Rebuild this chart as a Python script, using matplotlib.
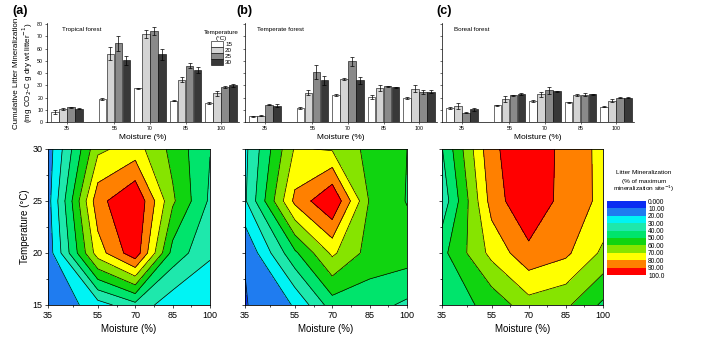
import numpy as np
import matplotlib
matplotlib.use("Agg")
import matplotlib.pyplot as plt
from matplotlib.patches import Patch
from matplotlib.ticker import FixedLocator

plt.rcParams['font.family'] = ['Liberation Sans', 'DejaVu Sans']

# ---------------- data ----------------
moisture_labels = ['35', '55', '70', '85', '100']
temperatures = [15, 20, 25, 30]
site_names = ['Tropical forest', 'Temperate forest', 'Boreal forest']

# bar means: rows = moisture (35,55,70,85,100), cols = temperature (15,20,25,30)
tropical_mean = [[8.0, 10.5, 12.0, 11.0],
                 [19.0, 56.0, 64.5, 50.5],
                 [27.5, 72.0, 74.5, 55.5],
                 [17.5, 34.5, 46.0, 42.5],
                 [15.5, 23.5, 28.5, 30.0]]
tropical_err = [[1.5, 1.0, 0.5, 0.5],
                [1.0, 5.0, 6.0, 3.5],
                [0.5, 3.0, 3.0, 4.5],
                [0.5, 2.0, 2.0, 2.5],
                [1.0, 2.0, 1.0, 1.5]]
temperate_mean = [[4.6, 5.2, 14.2, 13.4],
                  [11.2, 24.0, 41.0, 34.0],
                  [22.0, 35.2, 49.7, 34.0],
                  [20.5, 28.0, 29.2, 28.4],
                  [19.7, 27.3, 24.6, 24.9]]
temperate_err = [[0.3, 0.3, 0.5, 1.5],
                 [0.8, 2.0, 6.0, 4.0],
                 [1.0, 1.0, 3.5, 3.0],
                 [2.0, 2.5, 0.4, 0.6],
                 [0.6, 3.0, 1.5, 1.5]]
boreal_mean = [[11.5, 12.8, 7.7, 10.4],
               [13.7, 19.0, 21.9, 23.0],
               [17.2, 22.7, 26.0, 25.1],
               [16.1, 21.9, 22.4, 22.7],
               [12.5, 17.5, 20.0, 20.0]]
boreal_err = [[0.6, 2.5, 0.3, 1.0],
              [0.4, 2.5, 0.6, 1.0],
              [1.0, 2.0, 3.0, 0.4],
              [0.4, 0.8, 1.0, 0.4],
              [0.3, 1.0, 0.6, 0.4]]

# contour data (% of maximum mineralization), rows = moisture, cols = temperature
contour_moisture = [35, 55, 70, 85, 100]
contour_temperature = [15, 20, 25, 30]
tropical_pct = [[10.7, 14.1, 16.1, 14.8],
                [25.5, 75.2, 86.6, 67.8],
                [36.9, 96.6, 100.0, 74.5],
                [23.5, 46.3, 61.7, 57.0],
                [20.8, 31.5, 38.3, 40.3]]
temperate_pct = [[9.3, 10.5, 28.6, 27.5],
                 [20.8, 48.0, 82.5, 71.0],
                 [45.0, 72.0, 100.0, 69.0],
                 [44.0, 56.0, 59.0, 57.0],
                 [38.0, 55.0, 49.5, 50.0]]
boreal_pct = [[44.0, 47.0, 33.0, 39.5],
              [53.0, 73.0, 84.0, 88.0],
              [66.0, 87.0, 100.0, 97.0],
              [62.0, 82.0, 85.0, 87.0],
              [48.0, 68.0, 78.0, 77.0]]

levels = [0, 10, 20, 30, 40, 50, 60, 70, 80, 90, 100]
level_labels = ['0.000', '10.00', '20.00', '30.00', '40.00', '50.00',
                '60.00', '70.00', '80.00', '90.00', '100.0']

# ---------------- styles ----------------
bar_colors = ['#ffffff', '#d4d4d4', '#8a8a8a', '#383838']
fill_colors = ['#0a2cf2', '#1f7cf0', '#00f4f4', '#1ee8ac', '#00e46c',
               '#10d410', '#86e400', '#ffff00', '#ff8000', '#ff0000']

W, H = 702, 346
fig = plt.figure(figsize=(W / 100, H / 100), dpi=100)


def px_axes(l, t, r, b):
    return fig.add_axes([l / W, 1 - b / H, (r - l) / W, (b - t) / H])


def ftext(x, y, s, **kw):
    fig.text(x / W, 1 - y / H, s, **kw)


group_pos = np.array([0.0, 1.33, 2.33, 3.33, 4.33])
bar_step = 0.225
bar_w = 0.21

bar_boxes = [(47, 23, 239, 122), (245, 23, 437, 122), (442, 23, 634, 122)]
means = [tropical_mean, temperate_mean, boreal_mean]
errs = [tropical_err, temperate_err, boreal_err]

bar_axes = []
for k in range(3):
    ax = px_axes(*bar_boxes[k])
    m = np.array(means[k])
    e = np.array(errs[k])
    for j in range(4):
        x = group_pos + (j - 1.5) * bar_step
        ax.bar(x, m[:, j], width=bar_w, color=bar_colors[j], edgecolor='black',
               linewidth=0.4, zorder=2)
        ax.errorbar(x, m[:, j], yerr=e[:, j], fmt='none', ecolor='black',
                    elinewidth=0.5, capsize=1.2, capthick=0.5, zorder=3)
    ax.set_xlim(-0.563, 4.33 + 0.5)
    ax.set_ylim(0, 81)
    ax.set_xticks(group_pos)
    ax.set_xticklabels(moisture_labels, fontsize=3.8)
    ax.set_yticks(np.arange(0, 81, 10))
    if k == 0:
        ax.set_yticklabels([str(v) for v in range(0, 81, 10)], fontsize=3.8)
    else:
        ax.set_yticklabels([])
    ax.tick_params(axis='both', length=1.6, width=0.4, pad=1.2)
    for s in ['top', 'right']:
        ax.spines[s].set_visible(False)
    for s in ['left', 'bottom']:
        ax.spines[s].set_linewidth(0.5)
    ax.set_xlabel('Moisture (%)', fontsize=6, labelpad=2)
    ax.text(0.06 if k else 0.08, 0.93, site_names[k], transform=ax.transAxes,
            fontsize=4.5, va='center', ha='left')
    bar_axes.append(ax)

# legend for temperature
handles = [Patch(facecolor=bar_colors[j], edgecolor='black', linewidth=0.4,
                 label=str(temperatures[j])) for j in range(4)]
leg = fig.legend(handles=handles, title='Temperature\n(°C)', fontsize=4.5,
                 title_fontsize=4.5, frameon=False, handlelength=1.9,
                 handleheight=1.05, labelspacing=0.0, handletextpad=0.35,
                 borderpad=0.0, loc='upper left',
                 bbox_to_anchor=(201 / W, 1 - 27 / H))
leg.get_title().set_multialignment('center')

ftext(12, 11, '(a)', fontsize=9, fontweight='bold', va='center')
ftext(236, 11, '(b)', fontsize=9, fontweight='bold', va='center')
ftext(436, 11, '(c)', fontsize=9, fontweight='bold', va='center')

ftext(17, 73, 'Cumulative Litter Mineralization', fontsize=5.8,
      rotation=90, ha='center', va='center')
ftext(28, 73, '(mg CO$_2$-C g dry wt litter$^{-1}$)', fontsize=5.8,
      rotation=90, ha='center', va='center')

# ---------------- contour panels ----------------
cont_boxes = [(48, 149, 210, 305), (245, 149, 407, 305), (442, 149, 603, 305)]
pcts = [tropical_pct, temperate_pct, boreal_pct]
X, Y = np.meshgrid(contour_moisture, contour_temperature)
cf = None
for k in range(3):
    ax = px_axes(*cont_boxes[k])
    Z = np.array(pcts[k]).T
    cf = ax.contourf(X, Y, Z, levels=levels, colors=fill_colors)
    ax.contour(X, Y, Z, levels=levels[1:-1], colors='black', linewidths=0.5)
    ax.set_xlim(35, 100)
    ax.set_ylim(15, 30)
    ax.set_xticks(contour_moisture)
    ax.set_xticklabels(moisture_labels, fontsize=6.5)
    ax.xaxis.set_minor_locator(FixedLocator([45, 62.5, 77.5, 92.5]))
    ax.set_yticks(contour_temperature)
    ax.yaxis.set_minor_locator(FixedLocator([17.5, 22.5, 27.5]))
    if k == 0:
        ax.set_yticklabels([str(t) for t in contour_temperature], fontsize=6.5)
        ax.set_ylabel('Temperature (°C)', fontsize=7, labelpad=2)
    else:
        ax.set_yticklabels([])
    ax.tick_params(axis='both', which='major', length=2.5, width=0.5, pad=1.5)
    ax.tick_params(axis='both', which='minor', length=1.5, width=0.5)
    for s in ax.spines.values():
        s.set_linewidth(0.6)
    ax.set_xlabel('Moisture (%)', fontsize=7, labelpad=3)

# colour scale
cax = px_axes(607, 201, 646, 275)
cb = fig.colorbar(cf, cax=cax, ticks=levels)
cax.invert_yaxis()
cb.set_ticklabels(level_labels)
cb.outline.set_visible(False)
cax.tick_params(length=0, labelsize=4.8, pad=1.5)
ftext(644, 173, 'Litter Mineralization', fontsize=4.6, ha='center', va='center')
ftext(644, 181, '(% of maximum', fontsize=4.6, ha='center', va='center')
ftext(644, 189, 'mineralization site$^{-1}$)', fontsize=4.6, ha='center', va='center')

fig.savefig('out.png', dpi=100)
